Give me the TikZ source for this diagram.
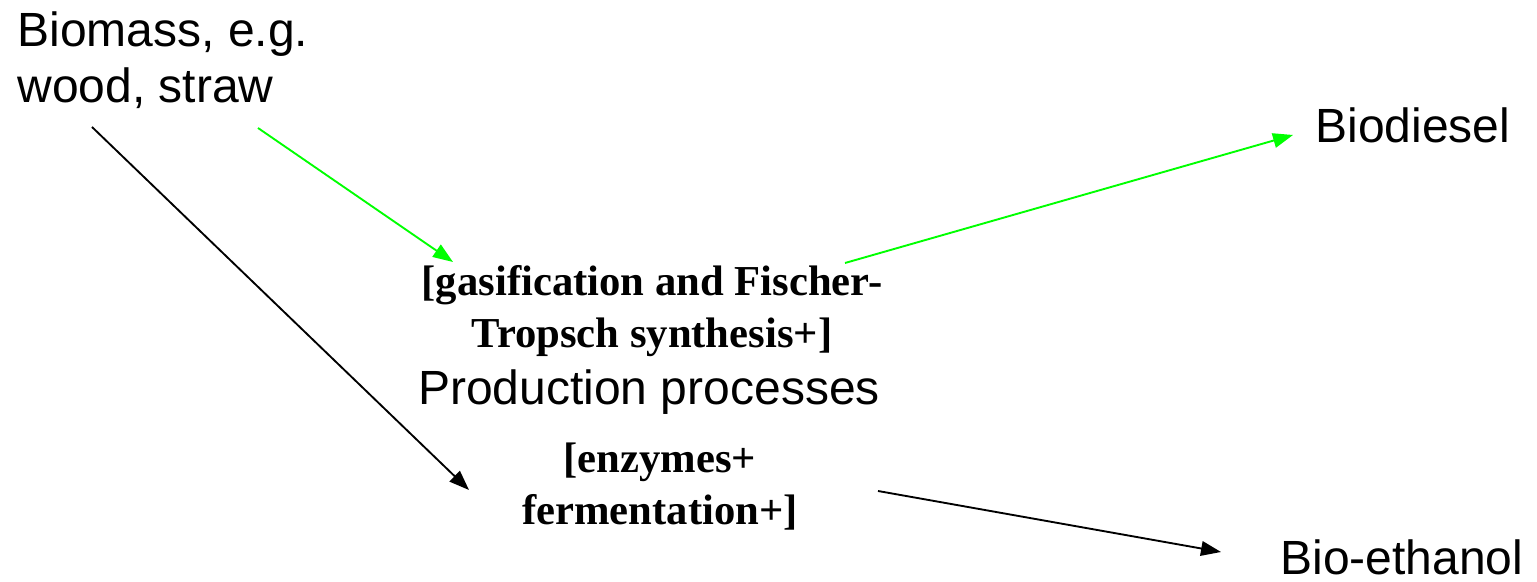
\documentclass[tikz,border=0pt]{standalone}
\usepackage{fontspec}
\setmainfont{Liberation Sans}
\newfontfamily\procfont{Liberation Serif}
\usepackage{tikz}
\usetikzlibrary{arrows.meta}
\definecolor{fuelgreen}{RGB}{0,255,0}

\tikzset{
  label/.style={inner sep=0pt, font=\fontsize{18}{21}\selectfont},
  process/.style={inner sep=0pt, align=center, font=\procfont\bfseries\fontsize{16}{19.5}\selectfont},
  flow/.style={line width=0.7pt, -{Triangle[length=7.5pt,width=5.5pt]}},
}

\begin{document}
\begin{tikzpicture}[x=0.375pt,y=-0.375pt]
  \useasboundingbox (0,0) rectangle (1537,582);

  % Raw material and products
  \node[label, anchor=base west, align=left] (biomass) at (17,103) {Biomass, e.g.\\wood, straw};
  \node[label, anchor=base west] (biodiesel) at (1315,143) {Biodiesel};
  \node[label, anchor=base west] (ethanol) at (1280,575) {Bio-ethanol};

  % Processes (base = last line)
  \node[process, anchor=base] (gasif) at (652,348) {[gasification and Fischer-\\Tropsch synthesis+]};
  \node[label, anchor=base] (prod) at (649,405) {Production processes};
  \node[process, anchor=base] (enzym) at (660,525) {[enzymes+\\fermentation+]};

  % Free ends of the arrows
  \coordinate (bm-black) at (92,127);
  \coordinate (bm-green) at (258,128);
  \coordinate (gasif-in) at (453,262);
  \coordinate (gasif-out) at (845,263);
  \coordinate (diesel-in) at (1293,135);
  \coordinate (enzym-in) at (469,490);
  \coordinate (enzym-out) at (878,491);
  \coordinate (ethanol-in) at (1221,552);

  % Routes
  \draw[flow, fuelgreen] (bm-green) -- (gasif-in);
  \draw[flow, fuelgreen] (gasif-out) -- (diesel-in);
  \draw[flow] (bm-black) -- (enzym-in);
  \draw[flow] (enzym-out) -- (ethanol-in);
\end{tikzpicture}
\end{document}
